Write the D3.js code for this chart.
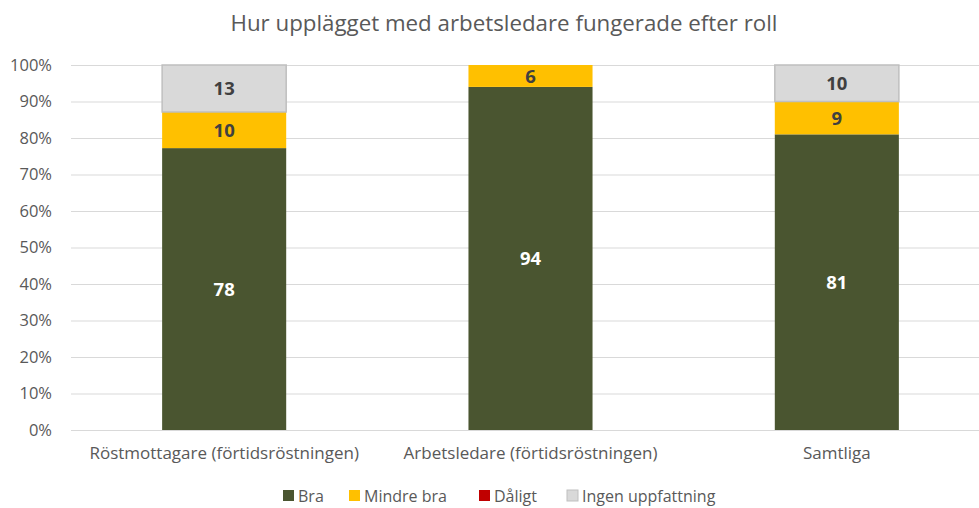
<!DOCTYPE html>
<html>
<head>
<meta charset="utf-8">
<script src="https://cdn.jsdelivr.net/npm/d3@7"></script>
<style>
  body { margin: 0; background: #fff; }
  svg { display: block; font-family: "Open Sans", sans-serif; }
</style>
</head>
<body>
<svg id="chart" width="979" height="508"></svg>
<script>
const categories = ["Röstmottagare (förtidsröstningen)", "Arbetsledare (förtidsröstningen)", "Samtliga"];
const seriesNames = ["Bra", "Mindre bra", "Dåligt", "Ingen uppfattning"];
const bra = [78, 94, 81];
const mindreBra = [10, 6, 9];
const daligt = [0, 0, 0];
const ingen = [13, 0, 10];
const tickValues = [0, 0.1, 0.2, 0.3, 0.4, 0.5, 0.6, 0.7, 0.8, 0.9, 1];

const COLORS = ["#4A5530", "#FFC000", "#C00000", "#D9D9D9"];
const TEXT = ["#ffffff", "#404040", "#ffffff", "#404040"];

const svg = d3.select("#chart");

const rows = categories.map((c, i) => ({
  cat: c,
  "Bra": bra[i],
  "Mindre bra": mindreBra[i],
  "Dåligt": daligt[i],
  "Ingen uppfattning": ingen[i]
}));

const stacked = d3.stack()
  .keys(seriesNames)
  .offset(d3.stackOffsetExpand)(rows);

const x = d3.scaleBand()
  .domain(categories)
  .range([71, 990])
  .paddingInner(0.595)
  .paddingOuter(0.2975);

const y = d3.scaleLinear().domain([0, 1]).range([430, 65]);

// title
svg.append("text")
  .attr("x", 504)
  .attr("y", 31)
  .attr("text-anchor", "middle")
  .attr("font-size", 22.3)
  .attr("fill", "#595959")
  .text("Hur upplägget med arbetsledare fungerade efter roll");

// gridlines + y labels
const yAxis = d3.axisLeft(y)
  .tickValues(tickValues)
  .tickFormat(d3.format(".0%"))
  .tickSize(-(979 - 71))
  .tickPadding(19);

const gy = svg.append("g")
  .attr("transform", "translate(71,0)")
  .call(yAxis);
gy.select(".domain").remove();
gy.selectAll(".tick line").attr("stroke", "#d9d9d9").attr("stroke-width", 1);
gy.selectAll(".tick text")
  .attr("fill", "#595959")
  .attr("font-size", 16.5)
  .attr("font-family", "Open Sans, sans-serif");

// bars
const layers = svg.append("g")
  .selectAll("g")
  .data(stacked)
  .enter()
  .append("g")
  .attr("fill", (d, i) => COLORS[i]);

layers.selectAll("rect")
  .data(d => d.map(p => ({ p: p, key: d.key })))
  .enter()
  .append("rect")
  .attr("x", d => x(d.p.data.cat))
  .attr("width", x.bandwidth())
  .attr("y", d => y(d.p[1]))
  .attr("height", d => y(d.p[0]) - y(d.p[1]))
  .attr("stroke", d => d.key === "Ingen uppfattning" && d.p[1] > d.p[0] ? "#bfbfbf" : "none")
  .attr("stroke-width", 1.5);

// data labels
stacked.forEach((layer, i) => {
  svg.append("g")
    .selectAll("text")
    .data(layer.filter(p => p.data[layer.key] > 0))
    .enter()
    .append("text")
    .attr("x", p => x(p.data.cat) + x.bandwidth() / 2)
    .attr("y", p => (y(p[0]) + y(p[1])) / 2)
    .attr("dy", "0.36em")
    .attr("text-anchor", "middle")
    .attr("font-size", 18.5)
    .attr("font-weight", "bold")
    .attr("fill", TEXT[i])
    .text(p => p.data[layer.key]);
});

// x labels
const gx = svg.append("g")
  .attr("transform", "translate(0,430)")
  .call(d3.axisBottom(x).tickSize(0).tickPadding(17));
gx.select(".domain").attr("stroke", "#d9d9d9");
gx.selectAll(".tick text")
  .attr("fill", "#595959")
  .attr("font-size", 17)
  .attr("font-family", "Open Sans, sans-serif");

// legend
const legendX = [283, 349, 479, 567];
const legend = svg.append("g")
  .selectAll("g")
  .data(seriesNames)
  .enter()
  .append("g")
  .attr("transform", (d, i) => `translate(${legendX[i]},490)`);

legend.append("rect")
  .attr("width", 11)
  .attr("height", 11)
  .attr("fill", (d, i) => COLORS[i])
  .attr("stroke", (d, i) => i === 3 ? "#bfbfbf" : "none");

legend.append("text")
  .attr("x", 15)
  .attr("y", 6)
  .attr("dy", "0.36em")
  .attr("font-size", 16)
  .attr("fill", "#595959")
  .text(d => d);
</script>
</body>
</html>
